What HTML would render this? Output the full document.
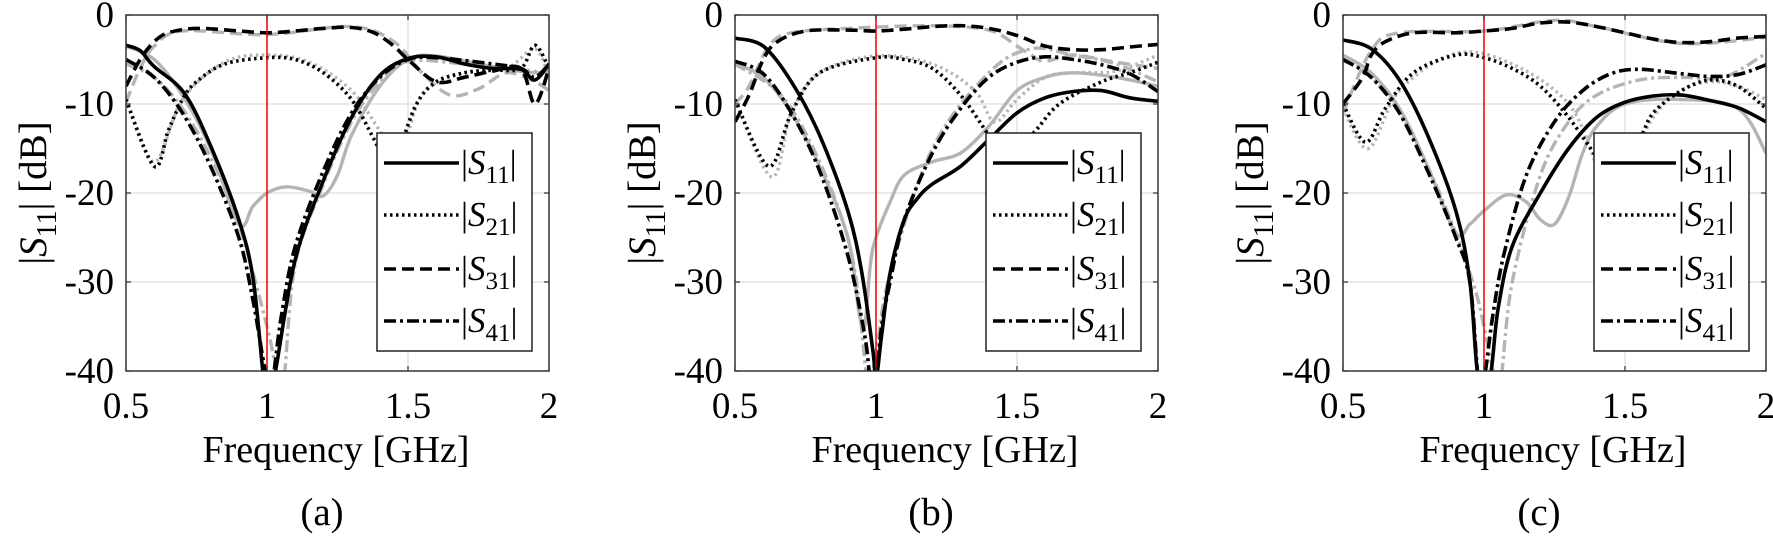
<!DOCTYPE html>
<html><head><meta charset="utf-8">
<style>
html,body{margin:0;padding:0;background:#fff;}
svg{display:block;}
svg text{font-family:"Liberation Serif","Times New Roman","Noto Serif CJK SC","DejaVu Serif",serif;}
</style></head>
<body>
<svg id="s" width="1773" height="545" viewBox="0 0 1773 545" xmlns="http://www.w3.org/2000/svg"></svg>
<script>
const NS="http://www.w3.org/2000/svg";
const svg=document.getElementById('s');
const T=15,B=371,W=423;
const panels=[
{L:126,lab:'(a)',c:{
 gS11:[[0.5,-3.5],[0.6,-5],[0.7,-9],[0.8,-15],[0.9,-23.5],[0.95,-21.5],[1.0,-20],[1.07,-19.3],[1.15,-19.8],[1.2,-20.3],[1.25,-18],[1.3,-13.5],[1.4,-8],[1.5,-5],[1.6,-4.6],[1.8,-5.8],[1.95,-6.5],[2.0,-6]],
 S11:[[0.5,-3.4],[0.55,-4],[0.6,-5.8],[0.707,-8.8],[0.8,-14.7],[0.9,-23],[0.95,-29.5],[0.985,-40],[1.0,-44],[1.03,-40],[1.1,-27.5],[1.2,-18.6],[1.3,-11.5],[1.4,-6.8],[1.5,-4.9],[1.6,-4.7],[1.7,-5.5],[1.8,-6],[1.9,-6.1],[1.95,-7.3],[2.0,-5.5]],
 gS21:[[0.5,-9.5],[0.6,-16.5],[0.7,-9.5],[0.85,-5.3],[1.0,-4.5],[1.15,-5.3],[1.3,-8.5],[1.4,-13],[1.47,-16],[1.55,-9],[1.7,-6.5],[1.85,-6],[1.95,-3.8],[2.0,-7]],
 S21:[[0.5,-9.5],[0.6,-17],[0.65,-13],[0.7,-9.5],[0.75,-7.5],[0.85,-5.5],[1.0,-4.8],[1.1,-5],[1.2,-6.5],[1.3,-9.5],[1.38,-14],[1.43,-17],[1.47,-15],[1.53,-10],[1.6,-7.5],[1.7,-6.5],[1.8,-6.2],[1.9,-6],[1.95,-3.4],[2.0,-6]],
 gS31:[[0.5,-9.8],[0.55,-6],[0.6,-3.5],[0.7,-1.8],[1.0,-2.2],[1.3,-1.3],[1.45,-3],[1.55,-6.5],[1.65,-9],[1.75,-8.3],[1.85,-6.5],[1.95,-7.5],[2.0,-8.5]],
 S31:[[0.5,-8],[0.55,-5],[0.6,-3],[0.65,-2],[0.75,-1.5],[0.9,-1.8],[1.0,-2],[1.1,-1.8],[1.2,-1.5],[1.3,-1.4],[1.38,-2],[1.45,-3.5],[1.5,-5],[1.6,-7.5],[1.7,-7],[1.8,-6.3],[1.9,-6],[1.95,-10],[2.0,-6]],
 gS41:[[0.5,-5.5],[0.6,-7],[0.7,-10.5],[0.8,-16],[0.9,-23.5],[1.0,-35],[1.04,-41],[1.06,-41],[1.1,-28],[1.2,-19],[1.3,-12],[1.4,-7.5],[1.5,-5.2],[1.7,-5.5],[2.0,-6.5]],
 S41:[[0.5,-5],[0.6,-7],[0.7,-11],[0.8,-17],[0.9,-25],[0.95,-32],[1.0,-41],[1.02,-41],[1.05,-34],[1.1,-26],[1.2,-17.5],[1.3,-11],[1.4,-7],[1.5,-5],[1.6,-4.8],[1.8,-5.5],[1.9,-6],[1.95,-7],[2.0,-5.5]]}},
{L:735,lab:'(b)',c:{
 gS11:[[0.5,-5.5],[0.6,-7],[0.7,-11],[0.8,-17],[0.9,-25],[0.94,-33.5],[0.96,-35],[0.98,-28],[1.0,-25],[1.05,-21],[1.1,-18],[1.2,-16.5],[1.3,-15.5],[1.4,-12.5],[1.5,-8.5],[1.6,-7],[1.7,-6.5],[1.85,-7],[2.0,-8]],
 S11:[[0.5,-2.6],[0.6,-3.5],[0.7,-7.5],[0.8,-13.5],[0.9,-22],[0.95,-29],[0.99,-38],[1.0,-41],[1.02,-36],[1.05,-29],[1.1,-23],[1.15,-20.5],[1.2,-19],[1.3,-17],[1.4,-14],[1.5,-11],[1.6,-9.3],[1.7,-8.6],[1.8,-8.5],[1.9,-9.3],[2.0,-9.7]],
 gS21:[[0.5,-9.5],[0.63,-18.2],[0.7,-11],[0.8,-6.5],[1.0,-4.6],[1.2,-5.5],[1.35,-8.5],[1.42,-12],[1.5,-9.5],[1.6,-7],[1.7,-6.5],[1.85,-6.3],[2.0,-4.5]],
 S21:[[0.5,-9.5],[0.62,-17],[0.7,-11],[0.8,-6.5],[1.0,-4.8],[1.1,-5],[1.2,-6],[1.3,-9],[1.4,-13.5],[1.45,-15.5],[1.55,-13.5],[1.65,-10],[1.8,-7.5],[1.9,-6.5],[2.0,-5.3]],
 gS31:[[0.5,-10],[0.55,-8],[0.62,-3.5],[0.7,-2],[0.9,-1.5],[1.2,-1.2],[1.4,-1.7],[1.5,-3.5],[1.55,-4.5],[1.6,-5.2],[1.7,-4.5],[1.85,-5.3],[2.0,-6]],
 S31:[[0.5,-12],[0.55,-9],[0.6,-5],[0.65,-3],[0.75,-1.8],[0.9,-1.7],[1.0,-1.8],[1.1,-1.6],[1.2,-1.3],[1.3,-1.2],[1.4,-1.5],[1.5,-2.3],[1.6,-3.5],[1.7,-3.9],[1.8,-3.9],[1.9,-3.6],[2.0,-3.3]],
 gS41:[[0.5,-5.5],[0.7,-10.5],[0.9,-25],[0.97,-41],[1.0,-38],[1.05,-29],[1.2,-15],[1.4,-6.5],[1.55,-3.8],[1.7,-4.5],[1.85,-5.5],[2.0,-7.5]],
 S41:[[0.5,-5.2],[0.6,-6.6],[0.7,-11],[0.8,-17.5],[0.9,-27],[0.96,-36],[0.98,-41],[1.0,-41],[1.02,-35],[1.05,-30],[1.1,-23],[1.2,-15.5],[1.3,-10.5],[1.4,-7],[1.5,-5.3],[1.6,-4.7],[1.7,-5],[1.8,-5.6],[1.9,-6.6],[2.0,-8.6]]}},
{L:1343,lab:'(c)',c:{
 gS11:[[0.5,-4.5],[0.6,-6.5],[0.7,-10.5],[0.8,-17],[0.9,-24.5],[0.95,-23.5],[1.0,-22],[1.08,-20.2],[1.15,-21],[1.2,-23],[1.25,-23.5],[1.3,-20.5],[1.35,-15.5],[1.4,-12.5],[1.5,-10],[1.7,-9.5],[1.9,-10.5],[2.0,-15.5]],
 S11:[[0.5,-2.8],[0.6,-3.8],[0.7,-7.3],[0.8,-13.5],[0.9,-22],[0.95,-30],[0.98,-41],[1.02,-41],[1.05,-33],[1.1,-26],[1.2,-20],[1.3,-15],[1.4,-11.5],[1.5,-9.8],[1.6,-9.1],[1.7,-9],[1.8,-9.6],[1.9,-10.4],[2.0,-12]],
 gS21:[[0.5,-10.5],[0.59,-15],[0.7,-8.5],[0.9,-4.3],[1.1,-5.5],[1.3,-10],[1.4,-17],[1.45,-21.5],[1.5,-18],[1.6,-11.5],[1.7,-8.5],[1.8,-7.5],[1.9,-8],[2.0,-9.5]],
 S21:[[0.5,-10],[0.58,-14.3],[0.65,-10.5],[0.75,-6.5],[0.9,-4.5],[1.0,-4.8],[1.1,-6],[1.2,-8],[1.3,-11.5],[1.4,-16],[1.45,-18],[1.55,-14],[1.6,-11],[1.7,-8.5],[1.8,-7.3],[1.9,-8],[2.0,-10.5]],
 gS31:[[0.5,-11],[0.6,-4],[0.7,-2],[1.0,-1.8],[1.25,-0.6],[1.4,-1.3],[1.7,-3.2],[2.0,-2.5]],
 S31:[[0.5,-10],[0.57,-7],[0.6,-4.5],[0.65,-3],[0.75,-2],[0.9,-2],[1.0,-1.8],[1.1,-1.5],[1.2,-0.9],[1.3,-0.8],[1.4,-1.3],[1.5,-2],[1.6,-2.7],[1.7,-3.1],[1.8,-3],[1.9,-2.6],[2.0,-2.4]],
 gS41:[[0.5,-4.7],[0.6,-7],[0.7,-11],[0.8,-17],[0.9,-24.5],[0.97,-31],[1.0,-35],[1.04,-41],[1.06,-41],[1.1,-30],[1.2,-18],[1.3,-12],[1.4,-9],[1.55,-7.3],[1.7,-7],[1.85,-7],[2.0,-4.3]],
 S41:[[0.5,-5],[0.6,-7],[0.7,-11],[0.8,-17.5],[0.9,-25],[0.95,-30],[0.98,-41],[1.0,-41],[1.03,-34],[1.07,-27],[1.15,-18],[1.25,-12],[1.35,-8.5],[1.45,-6.6],[1.55,-6.1],[1.7,-6.6],[1.8,-6.9],[1.9,-6.7],[2.0,-5.6]]}}
];
const dash={S11:'none',S21:'2.5 3.5',S31:'12 6',S41:'12 4 3 4'};
function el(n,a,p){const e=document.createElementNS(NS,n);for(const k in a)e.setAttribute(k,a[k]);(p||svg).appendChild(e);return e;}
function path(pts){let d='M'+pts[0][0]+','+pts[0][1];
 for(let i=0;i<pts.length-1;i++){const p0=pts[i-1]||pts[i],p1=pts[i],p2=pts[i+1],p3=pts[i+2]||p2;
  const c1=[p1[0]+(p2[0]-p0[0])/6,p1[1]+(p2[1]-p0[1])/6],c2=[p2[0]-(p3[0]-p1[0])/6,p2[1]-(p3[1]-p1[1])/6];
  d+=' C'+c1[0].toFixed(1)+','+c1[1].toFixed(1)+' '+c2[0].toFixed(1)+','+c2[1].toFixed(1)+' '+p2[0].toFixed(1)+','+p2[1].toFixed(1);}
 return d;}
panels.forEach((P,i)=>{
 const L=P.L,R=L+W;
 const X=f=>L+(f-0.5)/1.5*W, Y=d=>T+(-d)/40*(B-T);
 const cp=el('clipPath',{id:'c'+i});el('rect',{x:L,y:T,width:W,height:B-T},cp);
 [-10,-20,-30].forEach(d=>el('line',{x1:L,x2:R,y1:Y(d),y2:Y(d),stroke:'#e3e3e3','stroke-width':1.5}));
 [1.5].forEach(f=>el('line',{x1:X(f),x2:X(f),y1:T,y2:B,stroke:'#e3e3e3','stroke-width':1.5}));
 const g=el('g',{'clip-path':'url(#c'+i+')'});
 ['S11','S21','S31','S41'].forEach(k=>{
  el('path',{d:path(P.c['g'+k].map(p=>[X(p[0]),Y(p[1])])),fill:'none',stroke:'#b4b4b4','stroke-width':3.4,'stroke-dasharray':dash[k]},g);});
 ['S11','S21','S31','S41'].forEach(k=>{
  el('path',{d:path(P.c[k].map(p=>[X(p[0]),Y(p[1])])),fill:'none',stroke:'#000','stroke-width':3.6,'stroke-dasharray':dash[k]},g);});
 el('line',{x1:X(1),x2:X(1),y1:T,y2:B,stroke:'#e00','stroke-width':1.5});
 [0.5,1,1.5,2].forEach(f=>{el('line',{x1:X(f),x2:X(f),y1:B,y2:B-5,stroke:'#333','stroke-width':1.2});el('line',{x1:X(f),x2:X(f),y1:T,y2:T+5,stroke:'#333','stroke-width':1.2});
  const t=el('text',{x:X(f),y:418,'text-anchor':'middle','font-size':37});t.textContent=String(f);});
 [0,-10,-20,-30,-40].forEach(d=>{el('line',{x1:L,x2:L+5,y1:Y(d),y2:Y(d),stroke:'#333','stroke-width':1.2});el('line',{x1:R,x2:R-5,y1:Y(d),y2:Y(d),stroke:'#333','stroke-width':1.2});
  const t=el('text',{x:L-12,y:Y(d)+12,'text-anchor':'end','font-size':37});t.textContent=String(d);});
 el('rect',{x:L,y:T,width:W,height:B-T,fill:'none',stroke:'#333','stroke-width':1.5});
 const lx=L+251,ly=133;
 el('rect',{x:lx,y:ly,width:155,height:218,fill:'#fff',stroke:'#222','stroke-width':1.5});
 [['S11',163],['S21',215],['S31',269],['S41',321]].forEach(([k,yy])=>{
  el('line',{x1:L+258,x2:L+333,y1:yy,y2:yy,stroke:'#000','stroke-width':3.6,'stroke-dasharray':dash[k]});
  const t=el('text',{x:L+335,y:yy+11,'font-size':35});
  t.innerHTML='|<tspan font-style="italic">S</tspan><tspan font-size="25" dy="9">'+k.slice(1)+'</tspan><tspan dy="-9">|</tspan>';});
 const yl=el('text',{x:0,y:0,'text-anchor':'middle','font-size':39,transform:'translate('+(L-80)+','+((T+B)/2)+') rotate(-90)'});
 yl.innerHTML='|<tspan font-style="italic">S</tspan><tspan font-size="28" dy="10">11</tspan><tspan dy="-10">| [dB]</tspan>';
 const fl=el('text',{x:L+210,y:462,'text-anchor':'middle','font-size':38});fl.textContent='Frequency [GHz]';
 const al=el('text',{x:L+196,y:525,'text-anchor':'middle','font-size':39});al.textContent=P.lab;
});
</script>
</body></html>
